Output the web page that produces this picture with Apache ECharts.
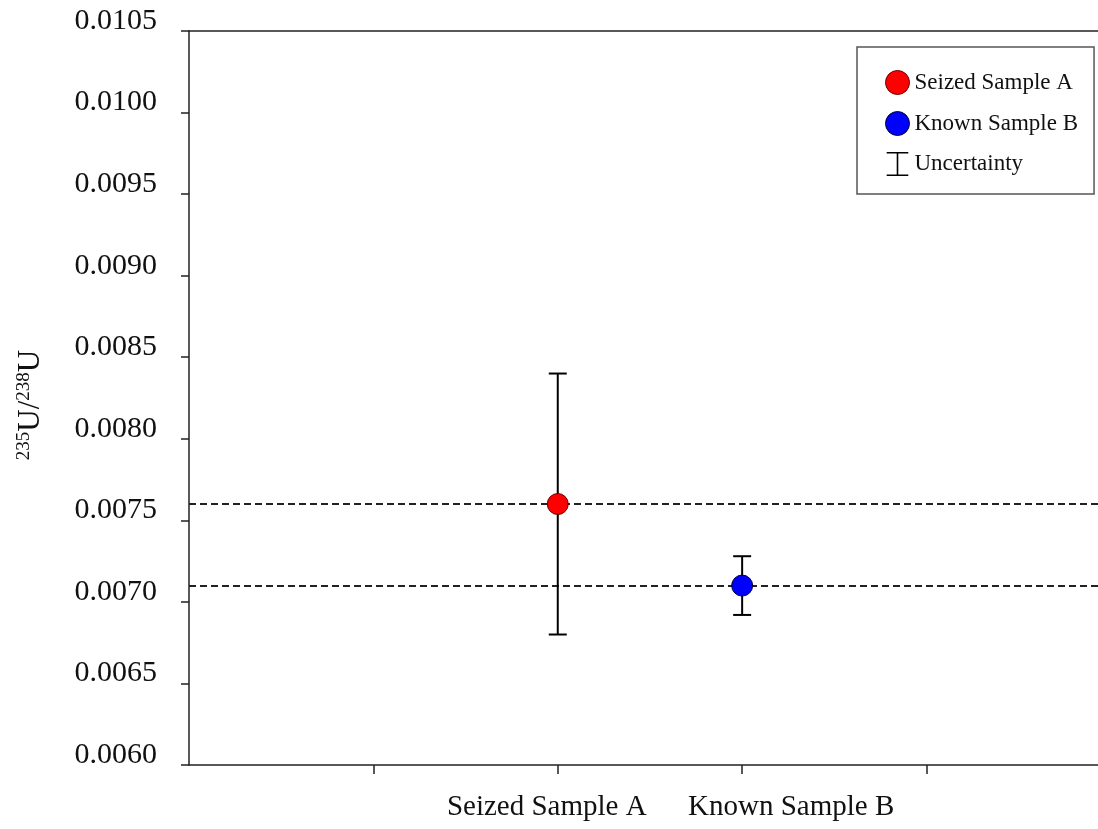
<!DOCTYPE html>
<html>
<head>
<meta charset="utf-8">
<script src="https://cdn.jsdelivr.net/npm/echarts@6/dist/echarts.min.js"></script>
<style>
  html, body { margin: 0; padding: 0; background: #fff; }
  #chart { width: 1098px; height: 829px; }
</style>
</head>
<body>
<div id="chart"></div>
<script>
// samples and their measured 235U/238U ratios
const sampleNames = ["Seized Sample A", "Known Sample B"];
const xPositions = [2, 3];
const ratios = [0.0076, 0.0071];
const lowerBounds = [0.0068, 0.00692];
const upperBounds = [0.0084, 0.00728];
const referenceLines = [0.0076, 0.0071];
const xTicks = [1, 2, 3, 4];
const xMin = 0;
const xMax = 4.93;

const serif = "Liberation Serif, Times New Roman, serif";
const chart = echarts.init(document.getElementById("chart"));

const errorData = xPositions.map((x, i) => [x, lowerBounds[i], upperBounds[i]]);

const option = {
    animation: false,
    grid: { left: 189, top: 31, right: 0, bottom: 64 },
    legend: {
        orient: "vertical",
        left: 857,
        top: 47,
        padding: [23, 16, 18, 28],
        itemGap: 16,
        itemWidth: 24,
        itemHeight: 24,
        borderColor: "#555",
        borderWidth: 1.5,
        textStyle: { fontFamily: serif, fontSize: 23, color: "#111", lineHeight: 24 },
        data: [
            { name: "Seized Sample A", icon: "circle",
              itemStyle: { color: "#ff0000", borderColor: "#600", borderWidth: 1, opacity: 1 } },
            { name: "Known Sample B", icon: "circle",
              itemStyle: { color: "#0000ff", borderColor: "#003", borderWidth: 1, opacity: 1 } },
            { name: "Uncertainty",
              icon: "path://M0,0H27V2H14.5V28H27V30H0V28H12.5V2H0Z",
              itemStyle: { color: "#000", borderWidth: 0 } }
        ]
    },
    xAxis: [
        {
            type: "value",
            min: xMin,
            max: xMax,
            interval: 1,
            axisLine: { lineStyle: { color: "#222", width: 1.5 } },
            axisTick: { length: 9, customValues: xTicks, lineStyle: { color: "#222", width: 1.5 } },
            axisLabel: {
                customValues: xPositions,
                margin: 28,
                fontFamily: serif,
                fontSize: 29,
                color: "#111",
                formatter: v => {
                    const i = xPositions.indexOf(v);
                    return i === 0 ? "{a|" + sampleNames[i] + "}" : "{b|" + sampleNames[i] + "}";
                },
                rich: {
                    a: { fontFamily: serif, fontSize: 29, color: "#111", padding: [0, 22, 0, 0] },
                    b: { fontFamily: serif, fontSize: 29, color: "#111", padding: [0, 0, 0, 98] }
                }
            },
            splitLine: { show: false }
        },
        {
            type: "value",
            position: "top",
            min: xMin,
            max: xMax,
            axisLine: { show: true, lineStyle: { color: "#222", width: 1.5 } },
            axisTick: { show: false },
            axisLabel: { show: false },
            splitLine: { show: false }
        }
    ],
    yAxis: {
        type: "value",
        min: 0.006,
        max: 0.0105,
        interval: 0.0005,
        name: "{sup|235}{u|U/}{sup|238}{u|U}",
        nameLocation: "middle",
        nameRotate: 90,
        nameGap: 142,
        nameTextStyle: {
            padding: [0, 14, 0, 0],
            rich: {
                u: { fontFamily: serif, fontSize: 31, color: "#111", lineHeight: 32 },
                sup: { fontFamily: serif, fontSize: 19, color: "#111", verticalAlign: "top", lineHeight: 32 }
            }
        },
        axisLine: { show: true, lineStyle: { color: "#222", width: 1.5 } },
        axisTick: { show: true, length: 8, lineStyle: { color: "#222", width: 1.5 } },
        axisLabel: {
            margin: 32,
            fontFamily: serif,
            fontSize: 30,
            color: "#111",
            verticalAlign: "bottom",
            lineHeight: 20,
            formatter: v => v.toFixed(4)
        },
        splitLine: { show: false }
    },
    series: [
        {
            name: "Uncertainty",
            type: "custom",
            z: 2,
            encode: { x: 0, y: [1, 2] },
            data: errorData,
            renderItem: (params, api) => {
                const low = api.coord([api.value(0), api.value(1)]);
                const high = api.coord([api.value(0), api.value(2)]);
                const half = 9;
                const style = { stroke: "#000", lineWidth: 2 };
                return {
                    type: "group",
                    children: [
                        { type: "line", shape: { x1: low[0], y1: low[1], x2: high[0], y2: high[1] }, style },
                        { type: "line", shape: { x1: low[0] - half, y1: low[1], x2: low[0] + half, y2: low[1] }, style },
                        { type: "line", shape: { x1: high[0] - half, y1: high[1], x2: high[0] + half, y2: high[1] }, style }
                    ]
                };
            }
        },
        {
            name: sampleNames[0],
            type: "scatter",
            z: 5,
            symbolSize: 21,
            itemStyle: { color: "#ff0000", borderColor: "#600", borderWidth: 1, opacity: 1 },
            data: [[xPositions[0], ratios[0]]],
            markLine: {
                silent: true,
                z: 1,
                symbol: "none",
                label: { show: false },
                lineStyle: { color: "#222", type: [7, 4], width: 1.8 },
                data: referenceLines.map(v => [{ coord: [xMin, v] }, { coord: [xMax, v] }])
            }
        },
        {
            name: sampleNames[1],
            type: "scatter",
            z: 5,
            symbolSize: 21,
            itemStyle: { color: "#0000ff", borderColor: "#003", borderWidth: 1, opacity: 1 },
            data: [[xPositions[1], ratios[1]]]
        }
    ]
};

chart.setOption(option);
</script>
</body>
</html>
